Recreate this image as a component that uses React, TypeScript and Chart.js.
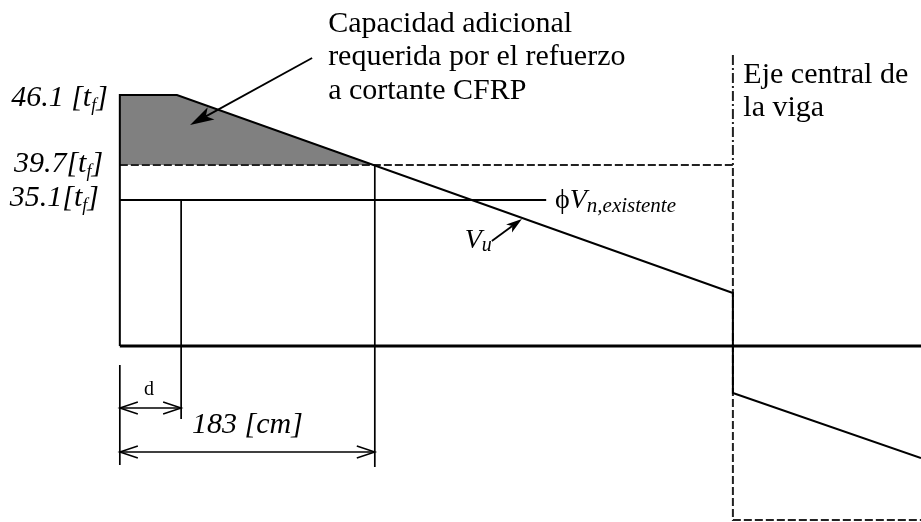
import React, { useEffect, useRef } from "react";
import { Chart, registerables } from "chart.js";

Chart.register(...registerables);

// ---- Diagram data (x in cm from the support face, y in schematic shear units; 0 = beam axis) ----
const X_MIN = -86;
const X_MAX = 575;
const Y_MIN = -176;
const Y_MAX = 346;

// Shear demand Vu
const vuX = [0, 0, 41, 440, 440, 575];
const vuY = [0, 251, 251, 53, -47, -112];

// Shaded additional capacity (between Vu and required level)
const shadeX = [0, 41, 183];
const shadeY = [251, 251, 181];
const REQUIRED_LEVEL = 181;

// Required capacity envelope (dashed)
const reqX = [0, 440, 440, 575];
const reqY = [181, 181, -174, -174];

// Existing capacity phi*Vn
const phiX = [0, 306];
const phiY = [146, 146];

// Beam axis
const axisX = [0, 575];
const axisY = [0, 0];

// Beam centre line (dash-dot)
const centreX = [440, 440];
const centreY = [291, 181];

// Reference verticals
const dRefX = [44, 44];
const dRefY = [146, -73];
const refX183 = [183, 183];
const refY183 = [181, -121];
const leftExtX = [0, 0];
const leftExtY = [-19, -119];

// Dimension lines
const dimStarts = [0, 0];
const dimEnds = [44, 183];
const dimLevels = [-62, -106];

// Level tick labels
const levelLabels = ["46.1 [t", "39.7[t", "35.1[t"];
const levelSub = ["f", "f", "f"];
const levelAnchorX = [-78, -76, -79];
const levelAnchorY = [240, 174, 140];

const SERIF = '"Liberation Serif", "Times New Roman", serif';

const pts = (xs: number[], ys: number[]) => xs.map((x, i) => ({ x, y: ys[i] }));

type Part = { t: string; font: string; dy?: number };

function drawRich(ctx: CanvasRenderingContext2D, x: number, y: number, parts: Part[]) {
  let cx = x;
  for (const p of parts) {
    ctx.font = p.font;
    ctx.fillText(p.t, cx, y + (p.dy || 0));
    cx += ctx.measureText(p.t).width;
  }
}

function filledArrow(
  ctx: CanvasRenderingContext2D,
  x0: number, y0: number, x1: number, y1: number,
  len: number, hw: number, lw: number
) {
  const a = Math.atan2(y1 - y0, x1 - x0);
  const c = Math.cos(a), s = Math.sin(a);
  const bx = x1 - c * len, by = y1 - s * len;
  const nx = x1 - c * len * 0.75, ny = y1 - s * len * 0.75;
  ctx.lineWidth = lw;
  ctx.beginPath();
  ctx.moveTo(x0, y0);
  ctx.lineTo(nx, ny);
  ctx.stroke();
  ctx.beginPath();
  ctx.moveTo(x1, y1);
  ctx.lineTo(bx - s * hw, by + c * hw);
  ctx.lineTo(nx, ny);
  ctx.lineTo(bx + s * hw, by - c * hw);
  ctx.closePath();
  ctx.fill();
}

function openHead(ctx: CanvasRenderingContext2D, tx: number, ty: number, dir: number, len: number, hw: number) {
  ctx.beginPath();
  ctx.moveTo(tx + dir * len, ty - hw);
  ctx.lineTo(tx, ty);
  ctx.lineTo(tx + dir * len, ty + hw);
  ctx.stroke();
}

const annotations = {
  id: "annotations",
  afterDatasetsDraw(chart: any) {
    const ctx: CanvasRenderingContext2D = chart.ctx;
    const sx = chart.scales.x;
    const sy = chart.scales.y;
    const px = (v: number) => sx.getPixelForValue(v);
    const py = (v: number) => sy.getPixelForValue(v);
    ctx.save();
    ctx.fillStyle = "#000";
    ctx.strokeStyle = "#000";
    ctx.textBaseline = "alphabetic";
    ctx.textAlign = "left";

    // dimension lines
    ctx.lineWidth = 1.5;
    for (let i = 0; i < dimStarts.length; i++) {
      const x0 = px(dimStarts[i]), x1 = px(dimEnds[i]), yy = py(dimLevels[i]);
      ctx.beginPath();
      ctx.moveTo(x0, yy);
      ctx.lineTo(x1, yy);
      ctx.stroke();
      openHead(ctx, x0, yy, 1, 18, 6);
      openHead(ctx, x1, yy, -1, 18, 6);
    }

    // level labels
    for (let i = 0; i < levelLabels.length; i++) {
      drawRich(ctx, px(levelAnchorX[i]), py(levelAnchorY[i]), [
        { t: levelLabels[i], font: `italic 30px ${SERIF}` },
        { t: levelSub[i], font: `italic 18px ${SERIF}`, dy: 5 },
        { t: "]", font: `italic 30px ${SERIF}` },
      ]);
    }

    // callout text
    ctx.font = `30px ${SERIF}`;
    ctx.fillText("Capacidad adicional", px(149.5), py(314));
    ctx.fillText("requerida por el refuerzo", px(149.5), py(281));
    ctx.fillText("a cortante CFRP", px(149.5), py(247));
    filledArrow(ctx, px(138), py(288), px(50.4), py(221), 24, 7, 1.8);

    // centre line text
    ctx.font = `30px ${SERIF}`;
    ctx.fillText("Eje central de", px(447.5), py(263));
    ctx.fillText("la viga", px(447.5), py(230));

    // phi Vn label
    drawRich(ctx, px(312.3), py(138), [
      { t: "\u03D5", font: `28px ${SERIF}` },
      { t: "V", font: `italic 28px ${SERIF}` },
      { t: "n,existente", font: `italic 21px ${SERIF}`, dy: 4 },
    ]);

    // Vu label
    drawRich(ctx, px(247.5), py(98), [
      { t: "V", font: `italic 28px ${SERIF}` },
      { t: "u", font: `italic 20px ${SERIF}`, dy: 3 },
    ]);
    filledArrow(ctx, px(267), py(105), px(288.6), py(127), 16, 5, 1.8);

    // dimension texts
    ctx.font = `20px ${SERIF}`;
    ctx.fillText("d", px(17.3), py(-49));
    ctx.font = `italic 30px ${SERIF}`;
    ctx.fillText("183 [cm]", px(51.8), py(-87));

    ctx.restore();
  },
};

export default function App() {
  const ref = useRef<HTMLCanvasElement | null>(null);

  useEffect(() => {
    if (!ref.current) return;
    const line = (xs: number[], ys: number[], width: number, dash: number[] = [], extra: any = {}) => ({
      data: pts(xs, ys),
      showLine: true,
      borderColor: "#000",
      borderWidth: width,
      borderDash: dash,
      pointRadius: 0,
      fill: false,
      order: 0,
      ...extra,
    });
    const chart = new Chart(ref.current, {
      type: "scatter",
      data: {
        datasets: [
          line(shadeX, shadeY, 0, [], {
            fill: { value: REQUIRED_LEVEL },
            backgroundColor: "#808080",
            borderColor: "rgba(0,0,0,0)",
            order: 10,
          }),
          line(reqX, reqY, 2, [8, 3], { order: 5, borderColor: "#222" }),
          line(centreX, centreY, 2, [10, 3, 2, 3], { order: 5, borderColor: "#222" }),
          line(axisX, axisY, 3),
          line(phiX, phiY, 2.2),
          line(dRefX, dRefY, 1.7),
          line(refX183, refY183, 1.7),
          line(leftExtX, leftExtY, 1.7),
          line(vuX, vuY, 2),
        ],
      },
      options: {
        responsive: false,
        animation: false,
        devicePixelRatio: 1,
        layout: { padding: 0 },
        plugins: { legend: { display: false }, tooltip: { enabled: false } },
        elements: { line: { tension: 0 }, point: { radius: 0 } },
        scales: {
          x: { type: "linear", min: X_MIN, max: X_MAX, display: false },
          y: { type: "linear", min: Y_MIN, max: Y_MAX, display: false },
        },
      },
      plugins: [annotations],
    } as any);
    return () => chart.destroy();
  }, []);

  return (
    <div style={{ position: "fixed", left: 0, top: 0, width: 921, height: 522, background: "#fff" }}>
      <canvas ref={ref} width={921} height={522} style={{ display: "block" }} />
    </div>
  );
}
